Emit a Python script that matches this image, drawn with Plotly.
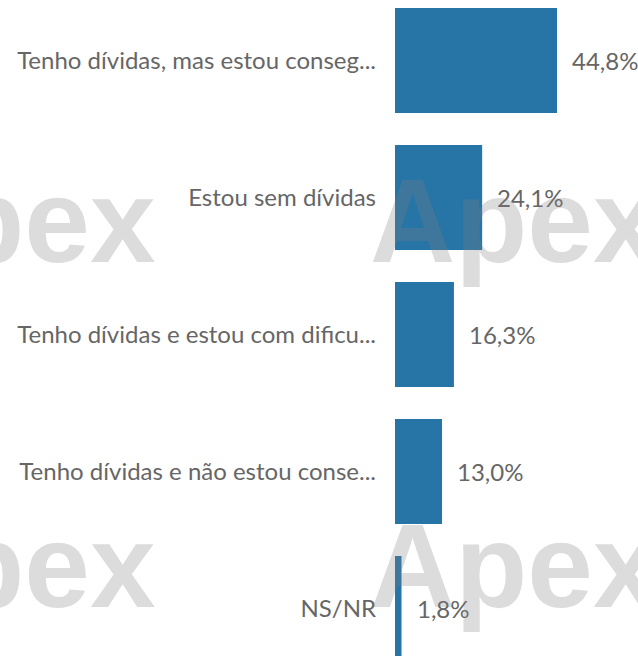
import plotly.graph_objects as go

# Survey answers (labels as shown, truncated) and shares in percent
categories = [
    "Tenho dívidas, mas estou conseg...",
    "Estou sem dívidas",
    "Tenho dívidas e estou com dificu...",
    "Tenho dívidas e não estou conse...",
    "NS/NR",
]
shares = [44.8, 24.1, 16.3, 13.0, 1.8]

W, H = 638, 656
LEFT = 395          # pixel where the value axis starts
X_MAX = 67.2        # right end of the value axis (%)

BAR_COLOR = "#2775a7"
TEXT_COLOR = "#666666"
LABEL_FONT = "Lato, Noto Sans, sans-serif"
LABEL_SIZE = 24

fig = go.Figure(
    go.Bar(
        y=categories,
        x=shares,
        orientation="h",
        marker=dict(color=BAR_COLOR, line=dict(width=0)),
        width=0.766,
        hoverinfo="skip",
    )
)

# value labels to the right of each bar
annotations = []
for cat, v in zip(categories, shares):
    annotations.append(
        dict(
            x=v, y=cat, xref="x", yref="y",
            text=f"{v:.1f}".replace(".", ",") + "%",
            showarrow=False, xanchor="left", yanchor="middle",
            xshift=13,
            font=dict(family=LABEL_FONT, size=LABEL_SIZE, color=TEXT_COLOR),
        )
    )

# tiled "Apex" watermark over the chart
plot_w = W - LEFT
wm_size = 118
for baseline in (262, 607):
    for left_px in (-135, 368):
        annotations.append(
            dict(
                x=(left_px - LEFT) / plot_w, y=1 - (baseline - 0.3465 * wm_size) / H,
                xref="paper", yref="paper",
                text="Apex", showarrow=False,
                xanchor="left", yanchor="middle",
                font=dict(family="Liberation Sans, Arial, sans-serif", size=wm_size,
                          color="rgba(127,127,127,0.27)", weight="bold"),
            )
        )

fig.update_layout(
    width=W, height=H,
    margin=dict(l=LEFT, r=0, t=0, b=0, pad=0),
    paper_bgcolor="white", plot_bgcolor="white",
    showlegend=False,
    annotations=annotations,
    xaxis=dict(range=[0, X_MAX], visible=False, fixedrange=True),
    yaxis=dict(
        categoryorder="array", categoryarray=categories,
        range=[4.347, -0.4416],
        showgrid=False, zeroline=False, showline=False, ticks="",
        ticklabelstandoff=18,
        tickfont=dict(family=LABEL_FONT, size=LABEL_SIZE, color=TEXT_COLOR),
        fixedrange=True,
    ),
)

fig.write_html("out.html", config={"displayModeBar": False})
